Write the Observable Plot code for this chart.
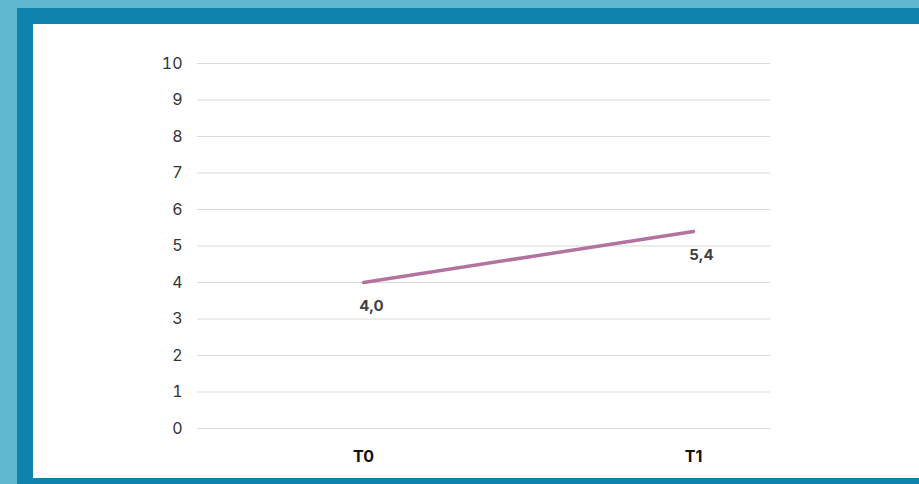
<!DOCTYPE html>
<html><head><meta charset="utf-8">
<script src="https://cdn.jsdelivr.net/npm/d3@7"></script>
<script src="https://cdn.jsdelivr.net/npm/@observablehq/plot@0.6"></script>
<style>
html,body{margin:0;padding:0;width:919px;height:484px;overflow:hidden;background:#5db7ce;}
#frame{position:absolute;left:17px;top:8px;width:920px;height:490px;background:#0e83ae;}
#panel{position:absolute;left:33px;top:24px;width:900px;height:454px;background:#fff;}
#chart{position:absolute;left:0;top:0;}
</style></head>
<body>
<div id="frame"></div><div id="panel"></div>
<div id="chart"></div>
<script>
const periods = ["T0", "T1"];
const values = [4.0, 5.4];
const valueLabels = ["4,0", "5,4"];
const yTicks = [0,1,2,3,4,5,6,7,8,9,10];

const data = periods.map((p, i) => ({period: p, value: values[i], label: valueLabels[i]}));

const chart = Plot.plot({
  width: 919,
  height: 484,
  marginLeft: 197,
  marginRight: 149,
  marginTop: 63,
  marginBottom: 56,
  style: {background: "transparent", fontFamily: "Inter, 'DejaVu Sans', sans-serif", fontSize: "16px"},
  x: {type: "point", domain: periods, range: [363, 693], padding: 0, axis: null, label: null},
  y: {domain: [0, 10], axis: null, label: null},
  marks: [
    Plot.ruleY(yTicks, {stroke: "#d9d9d9", strokeWidth: 1}),
    Plot.axisY({ticks: yTicks, tickSize: 0, tickPadding: 15, fontSize: 16, fill: "#333", fontWeight: 400, label: null}),
    Plot.axisX({tickSize: 0, tickPadding: 22, fontSize: 16, fontWeight: 700, fill: "#111", label: null}),
    Plot.line(data, {x: "period", y: "value", stroke: "#b2739f", strokeWidth: 3.5}),
    Plot.text(data, {x: "period", y: "value", text: "label", dx: 8, dy: 24, fontSize: 15, fontWeight: 700, fill: "#404040"})
  ]
});
document.getElementById("chart").appendChild(chart);
</script>
</body></html>
